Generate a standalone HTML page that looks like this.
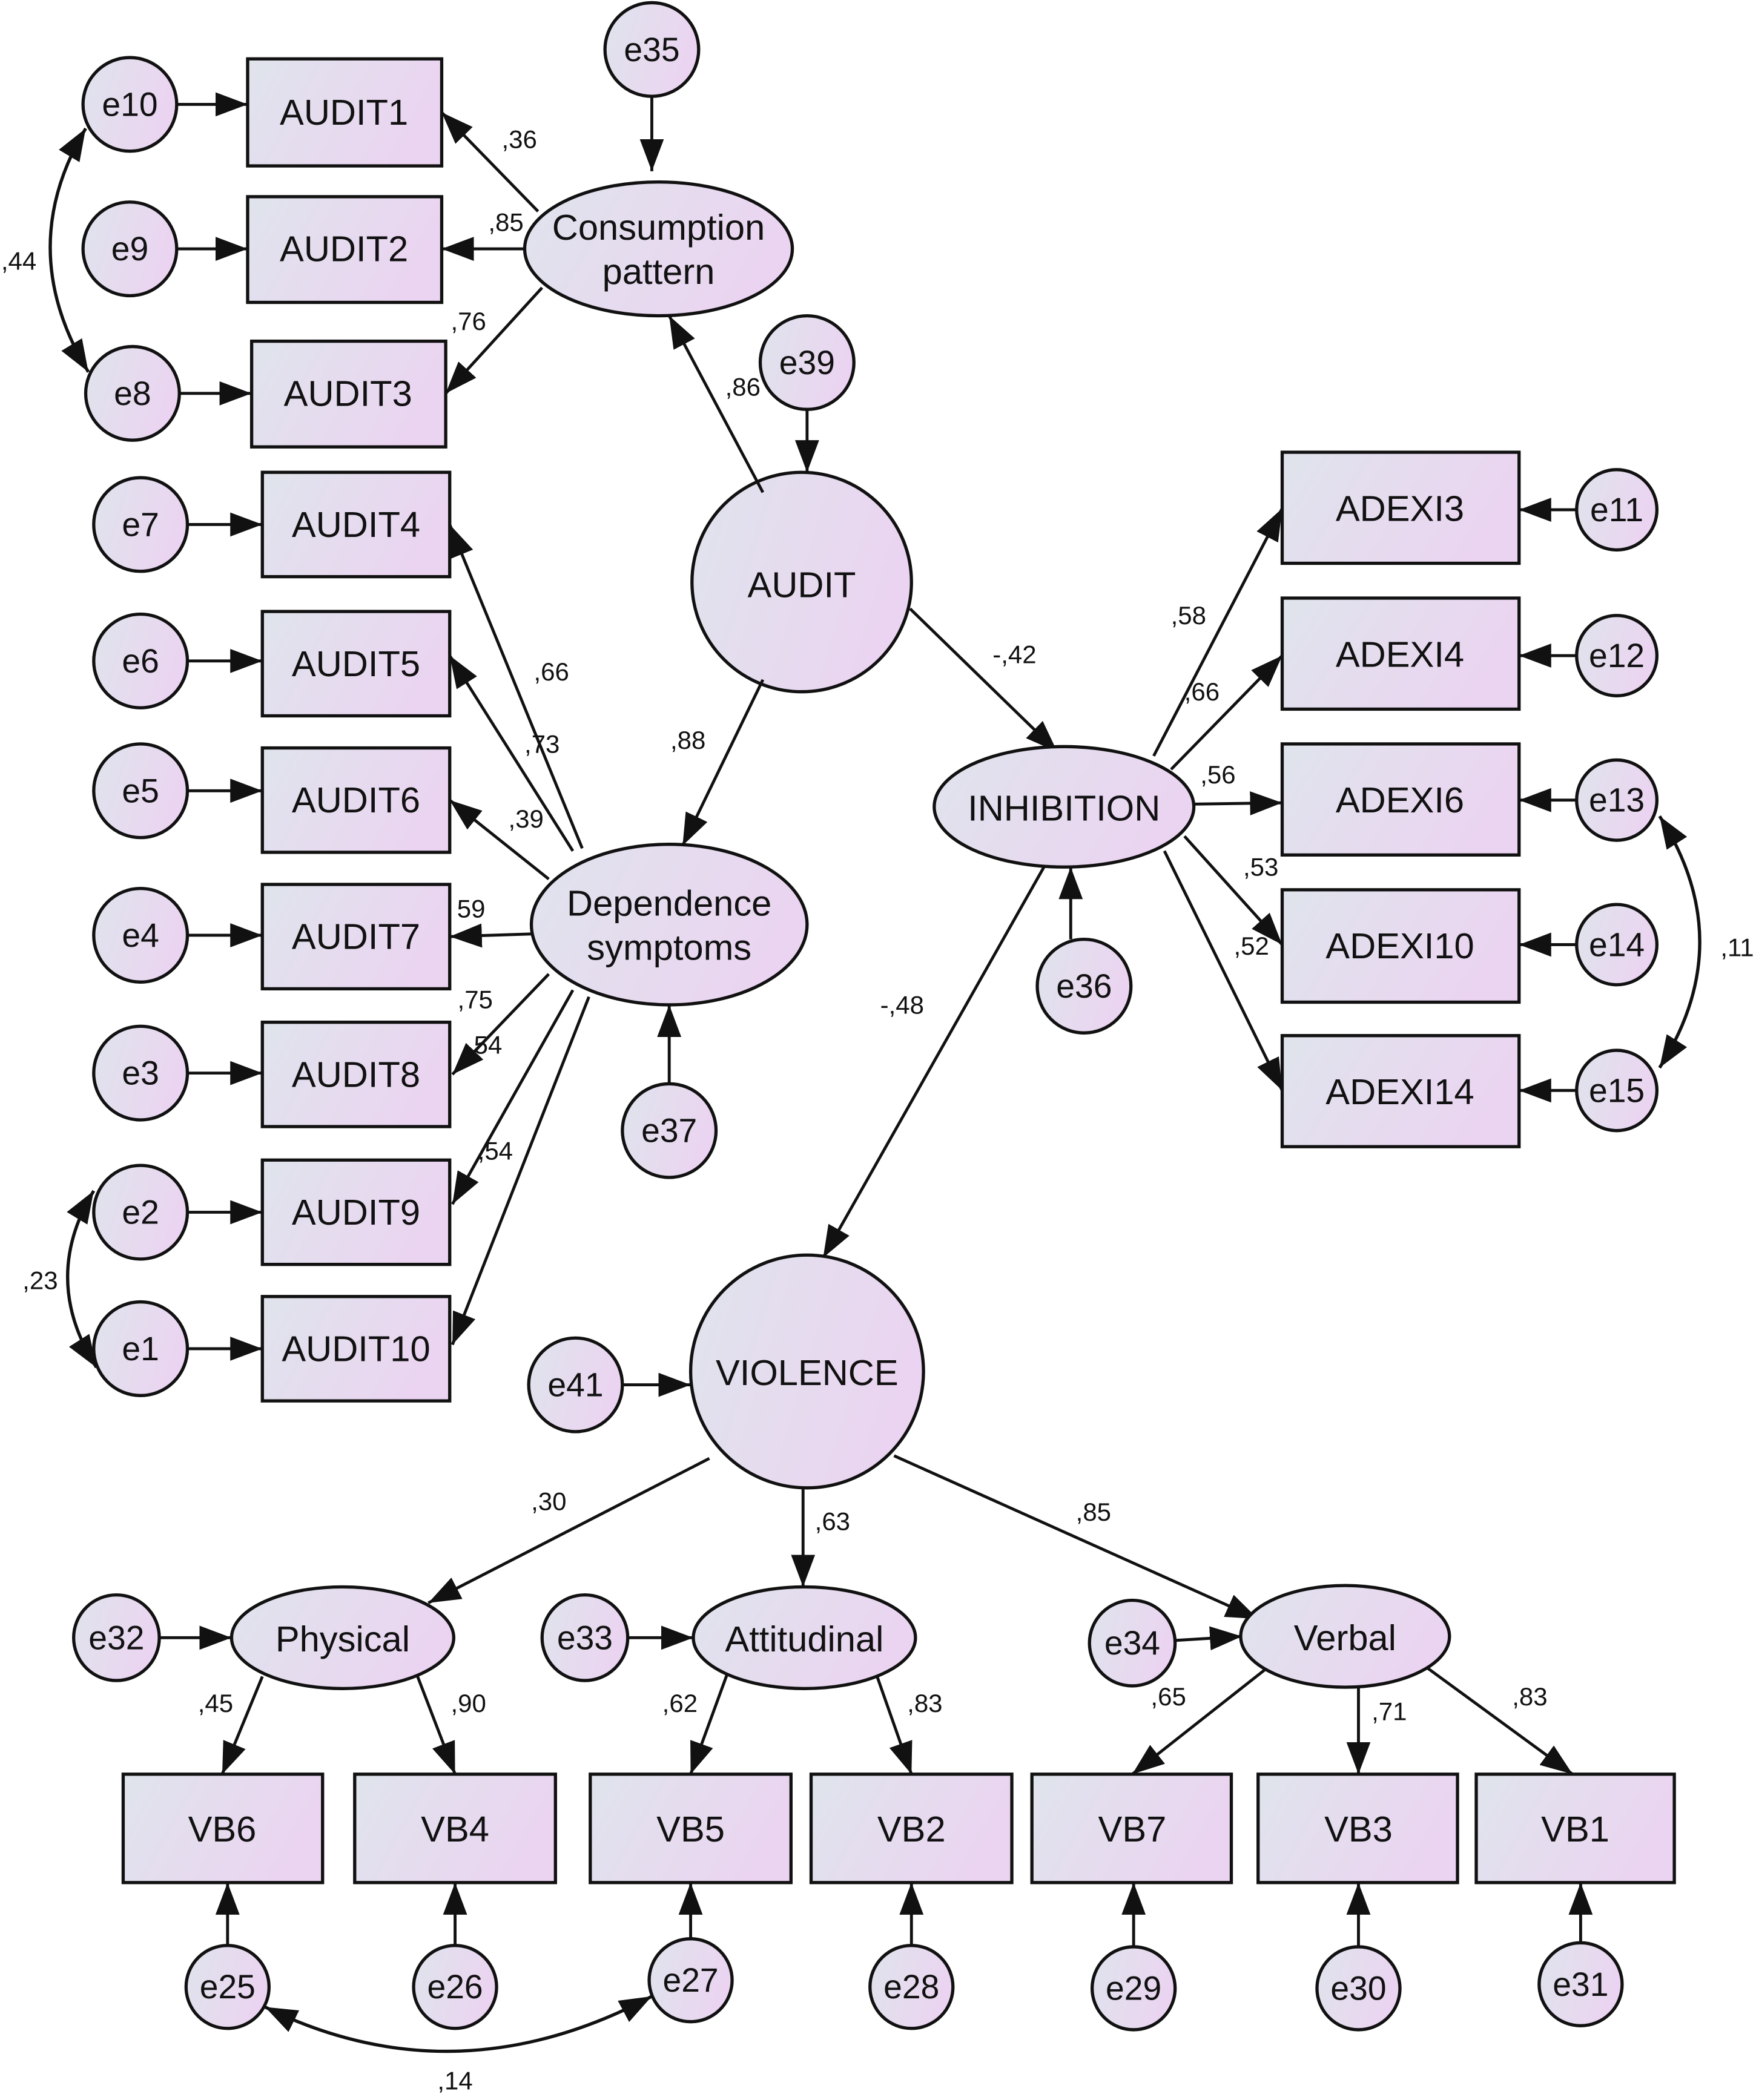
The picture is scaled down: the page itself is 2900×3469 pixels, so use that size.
<!DOCTYPE html>
<html><head><meta charset="utf-8"><style>
html,body{margin:0;padding:0;background:#fff;}
svg{display:block;}
text{font-family:"Liberation Sans",Arial,sans-serif;fill:#111;}
.n{font-size:27px;text-anchor:middle;dominant-baseline:central;}
.e{font-size:25px;text-anchor:middle;dominant-baseline:central;}
.l{font-size:19px;text-anchor:middle;dominant-baseline:central;}
.sh{stroke:#111;stroke-width:2.4;fill:url(#g);}
.a{stroke:#111;stroke-width:2.2;fill:none;marker-end:url(#m);}
.c{stroke:#111;stroke-width:2.4;fill:none;marker-end:url(#m);marker-start:url(#m);}
</style></head><body>
<svg width="2900" height="3469" viewBox="0 0 1312 1569.5" xmlns="http://www.w3.org/2000/svg">
<defs>
<linearGradient id="g" x1="0" y1="0" x2="1" y2="0.3">
<stop offset="0" stop-color="#dfe4ec"/><stop offset="1" stop-color="#ebd4f1"/>
</linearGradient>
<marker id="m" markerUnits="userSpaceOnUse" markerWidth="26" markerHeight="20" refX="24" refY="9" orient="auto-start-reverse">
<path d="M0,0 L24,9 L0,18 z" fill="#111"/>
</marker>
</defs>
<g>
<!-- Left AUDIT boxes -->
<rect class="sh" x="185" y="44" width="145" height="80"/><text class="n" x="257" y="84">AUDIT1</text>
<rect class="sh" x="185" y="147" width="145" height="79"/><text class="n" x="257" y="186">AUDIT2</text>
<rect class="sh" x="188" y="255" width="145" height="79"/><text class="n" x="260" y="294">AUDIT3</text>
<rect class="sh" x="196" y="353" width="140" height="78"/><text class="n" x="266" y="392">AUDIT4</text>
<rect class="sh" x="196" y="457" width="140" height="78"/><text class="n" x="266" y="496">AUDIT5</text>
<rect class="sh" x="196" y="559" width="140" height="78"/><text class="n" x="266" y="598">AUDIT6</text>
<rect class="sh" x="196" y="661" width="140" height="78"/><text class="n" x="266" y="700">AUDIT7</text>
<rect class="sh" x="196" y="764" width="140" height="78"/><text class="n" x="266" y="803">AUDIT8</text>
<rect class="sh" x="196" y="867" width="140" height="78"/><text class="n" x="266" y="906">AUDIT9</text>
<rect class="sh" x="196" y="969" width="140" height="78"/><text class="n" x="266" y="1008">AUDIT10</text>
<!-- left errors -->
<circle class="sh" cx="97" cy="78" r="35"/><text class="e" x="97" y="78">e10</text>
<circle class="sh" cx="97" cy="186" r="35"/><text class="e" x="97" y="186">e9</text>
<circle class="sh" cx="99" cy="294" r="35"/><text class="e" x="99" y="294">e8</text>
<circle class="sh" cx="105" cy="392" r="35"/><text class="e" x="105" y="392">e7</text>
<circle class="sh" cx="105" cy="494" r="35"/><text class="e" x="105" y="494">e6</text>
<circle class="sh" cx="105" cy="591" r="35"/><text class="e" x="105" y="591">e5</text>
<circle class="sh" cx="105" cy="699" r="35"/><text class="e" x="105" y="699">e4</text>
<circle class="sh" cx="105" cy="802" r="35"/><text class="e" x="105" y="802">e3</text>
<circle class="sh" cx="105" cy="906" r="35"/><text class="e" x="105" y="906">e2</text>
<circle class="sh" cx="105" cy="1008" r="35"/><text class="e" x="105" y="1008">e1</text>
<path class="a" d="M132,78 L185,78"/><path class="a" d="M132,186 L185,186"/><path class="a" d="M134,294 L188,294"/>
<path class="a" d="M140,392 L196,392"/><path class="a" d="M140,494 L196,494"/><path class="a" d="M140,591 L196,591"/>
<path class="a" d="M140,699 L196,699"/><path class="a" d="M140,802 L196,802"/><path class="a" d="M140,906 L196,906"/>
<path class="a" d="M140,1008 L196,1008"/>
<!-- covariances -->
<path class="c" d="M64,96 Q10,186 66,278"/>
<path class="c" d="M70,890 Q30,956 72,1022"/>
<path class="c" d="M1240,610 Q1300,704 1240,798"/>
<path class="c" d="M198,1500 Q340,1570 487,1492"/>
<!-- top latent -->
<circle class="sh" cx="487" cy="37" r="35"/><text class="e" x="487" y="37">e35</text>
<ellipse class="sh" cx="492" cy="186" rx="100" ry="50"/>
<text class="n" x="492" y="170">Consumption</text><text class="n" x="492" y="203">pattern</text>
<path class="a" d="M487,72 L487,128"/>
<circle class="sh" cx="603" cy="271" r="35"/><text class="e" x="603" y="271">e39</text>
<circle class="sh" cx="599" cy="435" r="82"/><text class="n" x="599" y="437">AUDIT</text>
<path class="a" d="M603,306 L603,353"/>
<path class="a" d="M402,158 L330,84"/><path class="a" d="M392,186 L330,186"/><path class="a" d="M405,215 L333,294"/>
<path class="a" d="M570,368 L500,236"/>
<ellipse class="sh" cx="500" cy="691" rx="103" ry="60"/>
<text class="n" x="500" y="675">Dependence</text><text class="n" x="500" y="708">symptoms</text>
<circle class="sh" cx="500" cy="845" r="35"/><text class="e" x="500" y="845">e37</text>
<path class="a" d="M500,810 L500,751"/>
<path class="a" d="M570,508 L510,632"/>
<path class="a" d="M435,634 L336,392"/><path class="a" d="M428,636 L336,490"/><path class="a" d="M410,657 L336,598"/>
<path class="a" d="M397,698 L336,700"/><path class="a" d="M410,728 L338,803"/><path class="a" d="M428,740 L338,900"/>
<path class="a" d="M440,745 L338,1005"/>
<!-- INHIBITION -->
<path class="a" d="M680,455 L790,562"/>
<ellipse class="sh" cx="795" cy="603" rx="97" ry="45"/><text class="n" x="795" y="604">INHIBITION</text>
<circle class="sh" cx="810" cy="737" r="35"/><text class="e" x="810" y="737">e36</text>
<path class="a" d="M800,702 L800,648"/>
<rect class="sh" x="958" y="338" width="177" height="83"/><text class="n" x="1046" y="380">ADEXI3</text>
<rect class="sh" x="958" y="447" width="177" height="83"/><text class="n" x="1046" y="489">ADEXI4</text>
<rect class="sh" x="958" y="556" width="177" height="83"/><text class="n" x="1046" y="598">ADEXI6</text>
<rect class="sh" x="958" y="665" width="177" height="84"/><text class="n" x="1046" y="707">ADEXI10</text>
<rect class="sh" x="958" y="774" width="177" height="83"/><text class="n" x="1046" y="816">ADEXI14</text>
<circle class="sh" cx="1208" cy="381" r="30"/><text class="e" x="1208" y="381">e11</text>
<circle class="sh" cx="1208" cy="490" r="30"/><text class="e" x="1208" y="490">e12</text>
<circle class="sh" cx="1208" cy="598" r="30"/><text class="e" x="1208" y="598">e13</text>
<circle class="sh" cx="1208" cy="706" r="30"/><text class="e" x="1208" y="706">e14</text>
<circle class="sh" cx="1208" cy="815" r="30"/><text class="e" x="1208" y="815">e15</text>
<path class="a" d="M1178,381 L1135,381"/><path class="a" d="M1178,490 L1135,490"/><path class="a" d="M1178,598 L1135,598"/>
<path class="a" d="M1178,706 L1135,706"/><path class="a" d="M1178,815 L1135,815"/>
<path class="a" d="M862,565 L958,380"/><path class="a" d="M875,575 L958,490"/><path class="a" d="M892,601 L958,600"/>
<path class="a" d="M885,625 L958,706"/><path class="a" d="M870,636 L958,815"/>
<!-- VIOLENCE -->
<path class="a" d="M780,648 L615,940"/>
<circle class="sh" cx="603" cy="1025" r="87"/><text class="n" x="603" y="1026">VIOLENCE</text>
<circle class="sh" cx="430" cy="1035" r="35"/><text class="e" x="430" y="1035">e41</text>
<path class="a" d="M465,1035 L516,1035"/>
<path class="a" d="M530,1090 L320,1198"/><path class="a" d="M600,1112 L600,1186"/><path class="a" d="M668,1088 L940,1210"/>
<ellipse class="sh" cx="256" cy="1224" rx="83" ry="38"/><text class="n" x="256" y="1225">Physical</text>
<ellipse class="sh" cx="601" cy="1224" rx="83" ry="38"/><text class="n" x="601" y="1225">Attitudinal</text>
<ellipse class="sh" cx="1005" cy="1223" rx="78" ry="38"/><text class="n" x="1005" y="1224">Verbal</text>
<circle class="sh" cx="87" cy="1224" r="32"/><text class="e" x="87" y="1224">e32</text>
<circle class="sh" cx="437" cy="1224" r="32"/><text class="e" x="437" y="1224">e33</text>
<circle class="sh" cx="846" cy="1228" r="32"/><text class="e" x="846" y="1228">e34</text>
<path class="a" d="M119,1224 L173,1224"/><path class="a" d="M469,1224 L518,1224"/><path class="a" d="M878,1226 L928,1223"/>
<rect class="sh" x="92" y="1326" width="149" height="81"/><text class="n" x="166" y="1367">VB6</text>
<rect class="sh" x="265" y="1326" width="150" height="81"/><text class="n" x="340" y="1367">VB4</text>
<rect class="sh" x="441" y="1326" width="150" height="81"/><text class="n" x="516" y="1367">VB5</text>
<rect class="sh" x="606" y="1326" width="150" height="81"/><text class="n" x="681" y="1367">VB2</text>
<rect class="sh" x="771" y="1326" width="149" height="81"/><text class="n" x="846" y="1367">VB7</text>
<rect class="sh" x="940" y="1326" width="149" height="81"/><text class="n" x="1015" y="1367">VB3</text>
<rect class="sh" x="1103" y="1326" width="148" height="81"/><text class="n" x="1177" y="1367">VB1</text>
<path class="a" d="M196,1253 L166,1326"/><path class="a" d="M312,1253 L340,1326"/>
<path class="a" d="M543,1252 L516,1326"/><path class="a" d="M655,1252 L681,1326"/>
<path class="a" d="M945,1248 L846,1326"/><path class="a" d="M1015,1261 L1015,1326"/><path class="a" d="M1067,1247 L1175,1326"/>
<circle class="sh" cx="170" cy="1485" r="31"/><text class="e" x="170" y="1485">e25</text>
<circle class="sh" cx="340" cy="1485" r="31"/><text class="e" x="340" y="1485">e26</text>
<circle class="sh" cx="516" cy="1480" r="31"/><text class="e" x="516" y="1480">e27</text>
<circle class="sh" cx="681" cy="1485" r="31"/><text class="e" x="681" y="1485">e28</text>
<circle class="sh" cx="847" cy="1486" r="31"/><text class="e" x="847" y="1486">e29</text>
<circle class="sh" cx="1015" cy="1486" r="31"/><text class="e" x="1015" y="1486">e30</text>
<circle class="sh" cx="1181" cy="1483" r="31"/><text class="e" x="1181" y="1483">e31</text>
<path class="a" d="M170,1454 L170,1407"/><path class="a" d="M340,1454 L340,1407"/><path class="a" d="M516,1449 L516,1407"/>
<path class="a" d="M681,1454 L681,1407"/><path class="a" d="M847,1455 L847,1407"/><path class="a" d="M1015,1455 L1015,1407"/>
<path class="a" d="M1181,1452 L1181,1407"/>
<!-- labels -->
<text class="l" x="388" y="104">,36</text><text class="l" x="378" y="166">,85</text><text class="l" x="350" y="240">,76</text>
<text class="l" x="555" y="289">,86</text><text class="l" x="14" y="195">,44</text><text class="l" x="514" y="553">,88</text>
<text class="l" x="412" y="502">,66</text><text class="l" x="405" y="556">,73</text><text class="l" x="393" y="612">,39</text>
<text class="l" x="352" y="679">59</text><text class="l" x="355" y="747">,75</text><text class="l" x="362" y="781">,54</text>
<text class="l" x="370" y="860">,54</text><text class="l" x="30" y="957">,23</text><text class="l" x="758" y="489">-,42</text>
<text class="l" x="888" y="460">,58</text><text class="l" x="898" y="517">,66</text><text class="l" x="910" y="579">,56</text>
<text class="l" x="942" y="648">,53</text><text class="l" x="935" y="707">,52</text><text class="l" x="1298" y="708">,11</text>
<text class="l" x="674" y="751">-,48</text><text class="l" x="410" y="1122">,30</text><text class="l" x="622" y="1137">,63</text>
<text class="l" x="817" y="1130">,85</text><text class="l" x="161" y="1273">,45</text><text class="l" x="350" y="1273">,90</text>
<text class="l" x="508" y="1273">,62</text><text class="l" x="691" y="1273">,83</text><text class="l" x="873" y="1268">,65</text>
<text class="l" x="1038" y="1279">,71</text><text class="l" x="1143" y="1268">,83</text><text class="l" x="340" y="1555">,14</text>
</g>
</svg>
</body></html>
